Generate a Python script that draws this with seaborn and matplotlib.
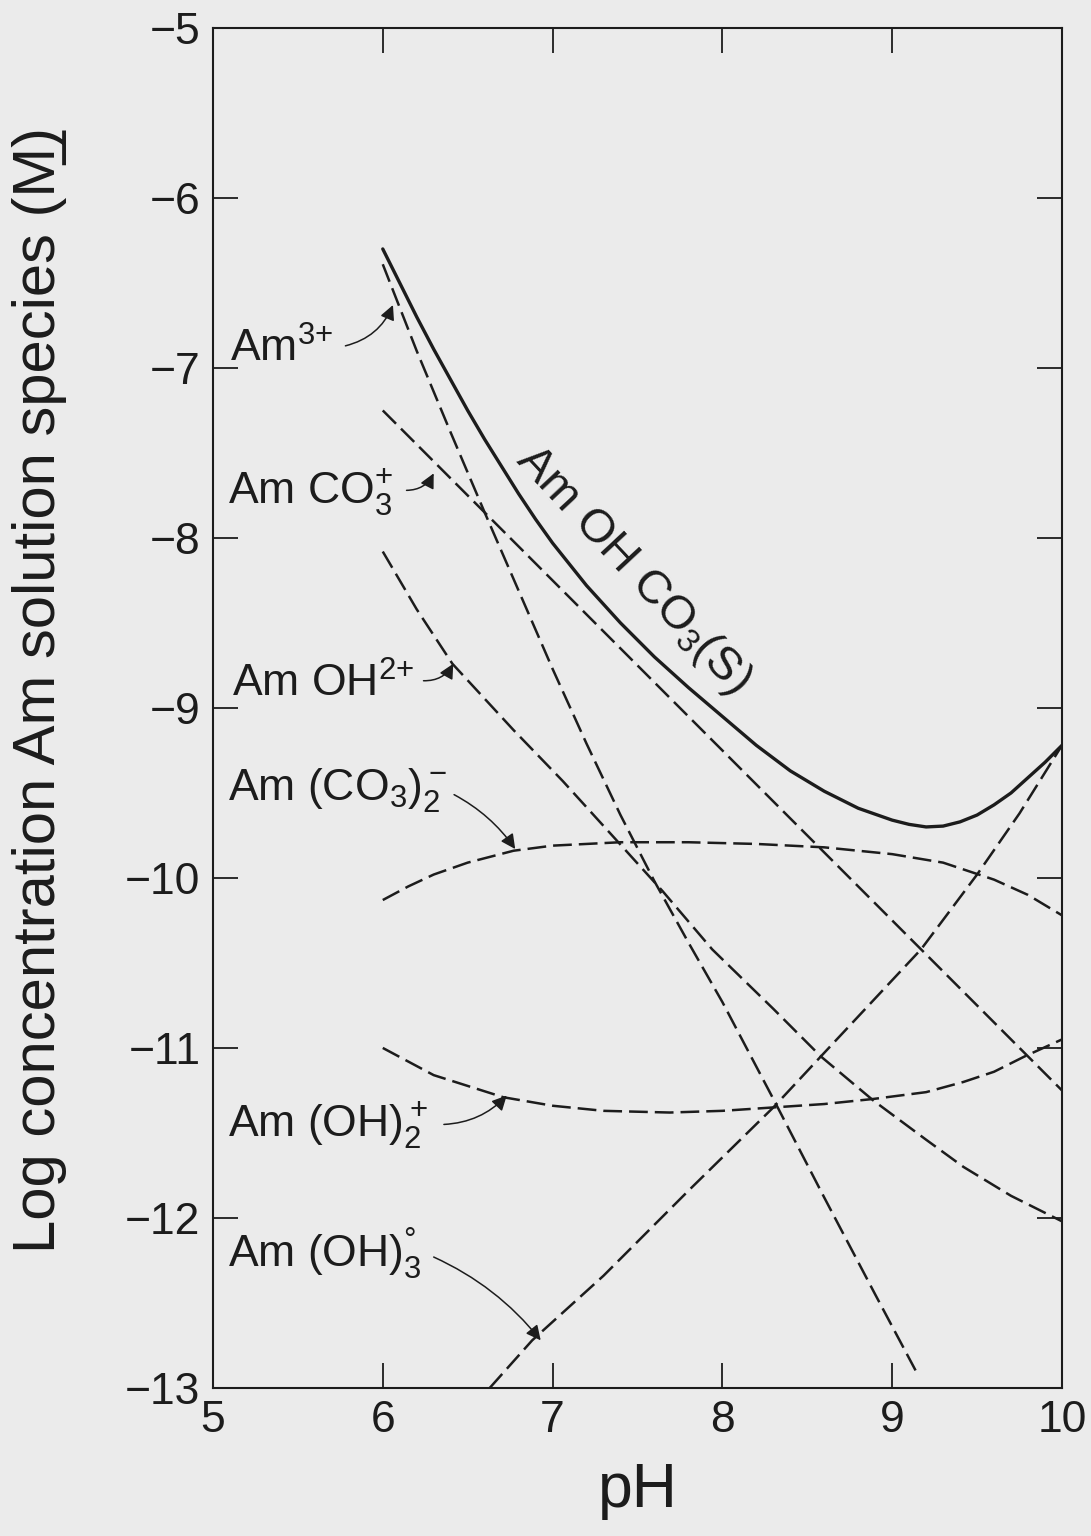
import matplotlib
matplotlib.use("Agg")
import matplotlib.pyplot as plt
import pandas as pd
import seaborn as sns

# Values (log concentration, M) vs pH

# Am OH CO3(s) - total solubility (solid line)
ph_total = [6.0, 6.1, 6.2, 6.3, 6.4, 6.5, 6.6, 6.7, 6.8, 6.9, 7.0, 7.2, 7.4,
            7.6, 7.8, 8.0, 8.2, 8.4, 8.6, 8.8, 9.0, 9.1, 9.2, 9.3, 9.4, 9.5,
            9.6, 9.7, 9.8, 9.9, 10.0]
log_total = [-6.30, -6.50, -6.70, -6.89, -7.07, -7.25, -7.42, -7.58, -7.74,
             -7.89, -8.03, -8.28, -8.50, -8.70, -8.88, -9.05, -9.22, -9.37,
             -9.49, -9.59, -9.66, -9.685, -9.70, -9.695, -9.67, -9.63, -9.57,
             -9.50, -9.41, -9.32, -9.22]

# Am3+
ph_am3 = [6.0, 6.2, 6.4, 6.6, 6.8, 7.0, 7.2, 7.4, 7.6, 7.8, 8.0, 8.3, 8.6,
          8.9, 9.15]
log_am3 = [-6.39, -6.90, -7.38, -7.85, -8.31, -8.77, -9.21, -9.63, -10.02,
           -10.38, -10.73, -11.30, -11.88, -12.45, -12.92]

# Am CO3+
ph_amco3 = [6.0, 7.0, 8.0, 9.0, 10.0]
log_amco3 = [-7.25, -8.25, -9.25, -10.25, -11.25]

# Am OH2+
ph_amoh = [6.0, 6.2, 6.41, 6.77, 7.06, 7.36, 7.65, 7.94, 8.3, 8.58, 8.89,
           9.2, 9.42, 9.7, 10.0]
log_amoh = [-8.08, -8.42, -8.74, -9.13, -9.43, -9.76, -10.08, -10.42,
            -10.77, -11.05, -11.31, -11.54, -11.70, -11.87, -12.02]

# Am (CO3)2-
ph_amco3_2 = [6.0, 6.15, 6.3, 6.5, 6.77, 7.0, 7.4, 7.8, 8.2, 8.6, 9.0, 9.3,
              9.6, 9.8, 10.0]
log_amco3_2 = [-10.13, -10.05, -9.98, -9.91, -9.84, -9.81, -9.79, -9.79,
               -9.80, -9.82, -9.86, -9.91, -10.01, -10.10, -10.22]

# Am (OH)2+
ph_amoh2 = [6.0, 6.3, 6.71, 7.0, 7.3, 7.69, 8.0, 8.3, 8.6, 8.89, 9.2, 9.42,
            9.6, 9.78, 10.0]
log_amoh2 = [-11.00, -11.16, -11.29, -11.34, -11.37, -11.38, -11.37, -11.35,
             -11.33, -11.30, -11.26, -11.20, -11.14, -11.05, -10.95]

# Am (OH)3 neutral
ph_amoh3 = [6.63, 6.88, 7.3, 7.8, 8.3, 8.58, 9.17, 9.5, 9.75, 10.0]
log_amoh3 = [-13.0, -12.72, -12.34, -11.84, -11.35, -11.05, -10.42, -9.98,
             -9.62, -9.22]

x_ticks = [5, 6, 7, 8, 9, 10]
y_ticks = [-5, -6, -7, -8, -9, -10, -11, -12, -13]

# Build one long table for seaborn
series = {
    "total": (ph_total, log_total),
    "Am3+": (ph_am3, log_am3),
    "AmCO3+": (ph_amco3, log_amco3),
    "AmOH2+": (ph_amoh, log_amoh),
    "Am(CO3)2-": (ph_amco3_2, log_amco3_2),
    "Am(OH)2+": (ph_amoh2, log_amoh2),
    "Am(OH)3": (ph_amoh3, log_amoh3),
}
frames = []
for name, (xs, ys) in series.items():
    frames.append(pd.DataFrame({"pH": xs, "logc": ys, "species": name}))
df = pd.concat(frames, ignore_index=True)

BG = "#ebebeb"
INK = "#1c1c1c"
DASH = (7.5, 2.8)

sns.set_theme(style="ticks")
plt.rcParams["font.family"] = ["Liberation Sans", "DejaVu Sans"]
plt.rcParams["mathtext.fontset"] = "custom"
plt.rcParams["mathtext.rm"] = "Liberation Sans"
plt.rcParams["mathtext.it"] = "Liberation Sans:italic"
plt.rcParams["mathtext.bf"] = "Liberation Sans:bold"
plt.rcParams["axes.unicode_minus"] = True

fig = plt.figure(figsize=(10.91, 15.36), dpi=100, facecolor=BG)
ax = fig.add_axes([0.1952, 0.0964, 0.7782, 0.8854], facecolor=BG)

dashes = {name: ("" if name == "total" else DASH) for name in series}
sizes = {name: (2.4 if name == "total" else 1.8) for name in series}
sns.lineplot(data=df, x="pH", y="logc", style="species", size="species",
             dashes=dashes, sizes=sizes, color=INK, estimator=None,
             sort=False, legend=False, ax=ax)

ax.set_xlim(5, 10)
ax.set_ylim(-13, -5)
ax.set_xticks(x_ticks)
ax.set_yticks(y_ticks)
ax.set_xticklabels([str(t) for t in x_ticks])
ax.set_yticklabels([f"\u2212{abs(t)}" for t in y_ticks])
ax.tick_params(direction="in", length=18, width=1.3, colors=INK,
               labelsize=32, top=True, right=True, pad=9)
for side in ax.spines.values():
    side.set_linewidth(1.5)
    side.set_color(INK)

ax.set_xlabel("pH", fontsize=45, color=INK)
ax.xaxis.set_label_coords(0.5, -0.054)
ax.set_ylabel("Log concentration Am solution species (M\u0332)", fontsize=43,
              color=INK)
ax.yaxis.set_label_coords(-0.172, 0.513)

# Species labels with arrows pointing to their curves
notes = [
    ("Am$^{3{+}}$", (5.10, -6.965), (5.78, -6.87), (6.06, -6.63), 0.25),
    ("Am CO$_3^{+}$", (5.09, -7.794), (6.14, -7.72), (6.30, -7.62), 0.3),
    ("Am OH$^{2{+}}$", (5.11, -8.935), (6.24, -8.84), (6.415, -8.74), 0.3),
    ("Am (CO$_3$)$_2^-$", (5.09, -9.54), (6.42, -9.51), (6.78, -9.83), -0.12),
    ("Am (OH)$_2^+$", (5.09, -11.52), (6.36, -11.45), (6.73, -11.28), 0.2),
    ("Am (OH)$_3^{\u00b0}$", (5.09, -12.29), (6.30, -12.23), (6.93, -12.72), -0.12),
]
for text, pos, start, tip, rad in notes:
    ax.text(pos[0], pos[1], text, fontsize=32, color=INK, ha="left",
            va="baseline")
    ax.annotate("", xy=tip, xytext=start,
                arrowprops=dict(arrowstyle="-|>", color=INK, lw=1.1,
                                mutation_scale=22, shrinkA=0, shrinkB=0,
                                connectionstyle=f"arc3,rad={rad}"))

ax.text(7.474, -8.19, "Am OH CO$_3$(S)", fontsize=34, color=INK,
        rotation=-47, rotation_mode="anchor", ha="center", va="center")

fig.savefig("out.png", dpi=100, facecolor=BG)
